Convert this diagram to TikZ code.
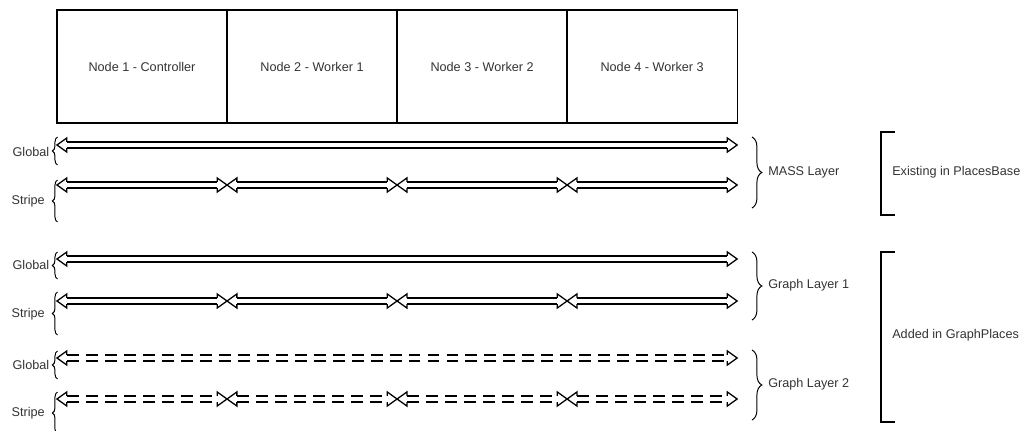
\documentclass[tikz,border=0pt]{standalone}
\usepackage{fontspec}
\setmainfont{Liberation Sans}
\usepackage{tikz}
\usetikzlibrary{positioning, decorations.pathreplacing, decorations.markings}

\begin{document}
\begin{tikzpicture}[x=0.025cm, y=-0.025cm, font=\fontsize{9}{11}\selectfont, text=black!80,
        box/.style={draw, line width=0.9pt, minimum width=4.25cm, minimum height=2.825cm, outer sep=0pt, inner sep=0pt},
        shaft/.style={draw=black, double=white, double distance=3.4pt, line width=0.9pt, shorten <=7pt, shorten >=7pt},
        heads/.style={decorate, decoration={markings,
            mark=at position 0 with {\draw[draw=black, solid, line width=0.9pt, miter limit=6]
                (7pt,2.15pt) -- (7pt,5pt) -- (0pt,0pt) -- (7pt,-5pt) -- (7pt,-2.15pt);},
            mark=at position 1 with {\draw[draw=black, solid, line width=0.9pt, miter limit=6]
                (-7pt,2.15pt) -- (-7pt,5pt) -- (0pt,0pt) -- (-7pt,-5pt) -- (-7pt,-2.15pt);}}},
        link/.style={draw=none, postaction={shaft}, postaction={heads}},
        dlink/.style={draw=none, postaction={shaft, dash pattern=on 8.5pt off 5pt}, postaction={heads}},
        brace/.style={decorate, decoration={brace, amplitude=#1}, line width=0.7pt},
        bracket/.style={line width=1.1pt},
        lbl/.style={inner sep=0pt}]

        \useasboundingbox (0,0) rectangle (1023,431);

        % 1. The four machines, side by side
        \node[box] (n1) at (142,66.5) {Node 1 - Controller};
        \node[box, right=0pt of n1] (n2) {Node 2 - Worker 1};
        \node[box, right=0pt of n2] (n3) {Node 3 - Worker 2};
        \node[box, right=0pt of n3] (n4) {Node 4 - Worker 3};

        % 2. Heights of the global and stripe rows
        \coordinate (g1) at (0,145);
        \coordinate (s1) at (0,185);
        \coordinate (g2) at (0,259);
        \coordinate (s2) at (0,301);
        \coordinate (g3) at (0,358);
        \coordinate (s3) at (0,399);

        % 3. MASS layer: one global span, one stripe per node
        \draw[link] (n1.west |- g1) -- (n4.east |- g1);
        \draw[link] (n1.west |- s1) -- (n1.east |- s1);
        \draw[link] (n2.west |- s1) -- (n2.east |- s1);
        \draw[link] (n3.west |- s1) -- (n3.east |- s1);
        \draw[link] (n4.west |- s1) -- (n4.east |- s1);

        % 4. Graph layer 1
        \draw[link] (n1.west |- g2) -- (n4.east |- g2);
        \draw[link] (n1.west |- s2) -- (n1.east |- s2);
        \draw[link] (n2.west |- s2) -- (n2.east |- s2);
        \draw[link] (n3.west |- s2) -- (n3.east |- s2);
        \draw[link] (n4.west |- s2) -- (n4.east |- s2);

        % 5. Graph layer 2 (dashed)
        \draw[dlink] (n1.west |- g3) -- (n4.east |- g3);
        \draw[dlink] (n1.west |- s3) -- (n1.east |- s3);
        \draw[dlink] (n2.west |- s3) -- (n2.east |- s3);
        \draw[dlink] (n3.west |- s3) -- (n3.east |- s3);
        \draw[dlink] (n4.west |- s3) -- (n4.east |- s3);

        % 6. Row labels with left braces
        \draw[brace=3.6pt] (57.5,165) -- (57.5,137);
        \node[lbl, anchor=east] (gt1) at (49.5,152) {Global};
        \draw[brace=3.6pt] (57.5,222) -- (57.5,180);
        \node[lbl, anchor=east] (st1) at (45,201) {Stripe};

        \draw[brace=3.6pt] (57.5,279) -- (57.5,252);
        \node[lbl, anchor=east] (gt2) at (49.5,265) {Global};
        \draw[brace=3.6pt] (57.5,335) -- (57.5,292);
        \node[lbl, anchor=east] (st2) at (45,314) {Stripe};

        \draw[brace=3.6pt] (57.5,379) -- (57.5,351);
        \node[lbl, anchor=east] (gt3) at (49.5,365) {Global};
        \draw[brace=3.6pt] (57.5,434) -- (57.5,392);
        \node[lbl, anchor=east] (st3) at (45,413) {Stripe};

        % 7. Layer braces on the right
        \draw[brace=7pt] (752,137) -- (752,208);
        \node[lbl, anchor=west] (mass) at (768,172) {MASS Layer};
        \draw[brace=7pt] (752,252) -- (752,320);
        \node[lbl, anchor=west] (gl1) at (768,285) {Graph Layer 1};
        \draw[brace=7pt] (752,350) -- (752,420);
        \node[lbl, anchor=west] (gl2) at (768,384) {Graph Layer 2};

        % 8. Where each part lives
        \draw[bracket] (895,132) -- (881,132) -- (881,215) -- (895,215);
        \node[lbl, anchor=west] (pb) at (892,172) {Existing in PlacesBase};
        \draw[bracket] (895,252) -- (881,252) -- (881,422) -- (895,422);
        \node[lbl, anchor=west] (gp) at (892,335) {Added in GraphPlaces};

\end{tikzpicture}
\end{document}
